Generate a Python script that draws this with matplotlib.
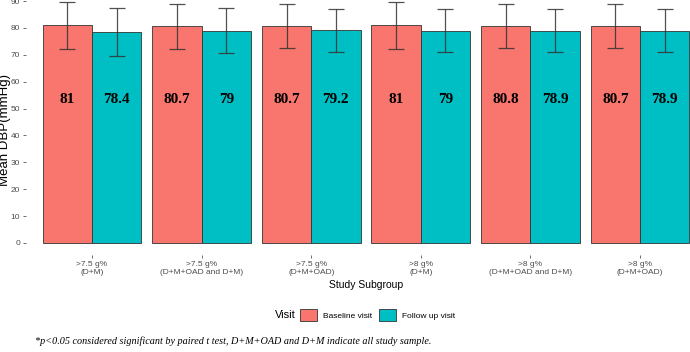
import matplotlib.pyplot as plt
import numpy as np

# data
subgroups = ['>7.5 g%\n(D+M)', '>7.5 g%\n(D+M+OAD and D+M)', '>7.5 g%\n(D+M+OAD)',
             '>8 g%\n(D+M)', '>8 g%\n(D+M+OAD and D+M)', '>8 g%\n(D+M+OAD)']
baseline = [81, 80.7, 80.7, 81, 80.8, 80.7]
followup = [78.4, 79, 79.2, 79, 78.9, 78.9]
baseline_sd = [8.7, 8.4, 8.2, 8.7, 8.3, 8.2]
followup_sd = [9.0, 8.4, 8.0, 8.0, 8.0, 8.0]

pink = '#F8766D'
teal = '#00BFC4'
grey = '#4D4D4D'

fig = plt.figure(figsize=(6.9, 3.52), dpi=100)
ax = fig.add_axes([26.2 / 690, (352 - 255) / 352, 679.6 / 690, 266 / 352])

x = np.arange(1, len(subgroups) + 1)
w = 0.45
ax.bar(x - w / 2, baseline, w, color=pink, edgecolor='#333333', linewidth=0.6, zorder=2)
ax.bar(x + w / 2, followup, w, color=teal, edgecolor='#333333', linewidth=0.6, zorder=2)
ax.errorbar(x - w / 2, baseline, yerr=baseline_sd, fmt='none', ecolor='#333333',
            elinewidth=0.9, capsize=5.5, capthick=0.9, alpha=0.85, zorder=3)
ax.errorbar(x + w / 2, followup, yerr=followup_sd, fmt='none', ecolor='#333333',
            elinewidth=0.9, capsize=5.5, capthick=0.9, alpha=0.85, zorder=3)

for xi, b, f in zip(x, baseline, followup):
    ax.text(xi - w / 2, 53.5, f'{b:g}', ha='center', va='center', fontsize=11,
            fontweight='bold', family='Liberation Serif', zorder=4)
    ax.text(xi + w / 2, 53.5, f'{f:g}', ha='center', va='center', fontsize=11,
            fontweight='bold', family='Liberation Serif', zorder=4)

ax.set_xlim(0.4, 6.6)
ax.set_ylim(-4.5, 94.5)
ax.set_yticks(np.arange(0, 91, 10))
ax.set_xticks(x)
ax.set_xticklabels(subgroups)
for s in ax.spines.values():
    s.set_visible(False)
ax.tick_params(axis='both', colors='#333333', labelcolor=grey, labelsize=6, length=2.5,
               width=0.5, pad=2)
for lab in ax.get_xticklabels() + ax.get_yticklabels():
    lab.set_family('Liberation Sans')

fig.text(11 / 690, 1 - 130 / 352, 'Mean DBP(mmHg)', ha='right', va='center',
         rotation=90, fontsize=9.5, family='Liberation Sans')
fig.text(366 / 690, 1 - 285 / 352, 'Study Subgroup', ha='center', va='center',
         fontsize=7.5, family='Liberation Sans')

# legend
fig.text(275 / 690, 1 - 315 / 352, 'Visit', ha='left', va='center', fontsize=8,
         family='Liberation Sans')
handles = [plt.Rectangle((0, 0), 1, 1, facecolor=pink, edgecolor='#333333', linewidth=0.6),
           plt.Rectangle((0, 0), 1, 1, facecolor=teal, edgecolor='#333333', linewidth=0.6)]
fig.legend(handles, ['Baseline visit', 'Follow up visit'], ncol=2, frameon=False,
           loc='center left', bbox_to_anchor=(294 / 690, 1 - 315 / 352),
           prop={'family': 'Liberation Sans', 'size': 6}, handlelength=2.0,
           handleheight=2.0, handletextpad=0.8, columnspacing=0.8, borderpad=0.2)

fig.text(35 / 690, 1 - 341 / 352,
         '*p<0.05 considered significant by paired t test, D+M+OAD and D+M indicate all study sample.',
         ha='left', va='center', fontsize=7.3, style='italic', family='Liberation Serif')

fig.savefig('out.png', dpi=100)
